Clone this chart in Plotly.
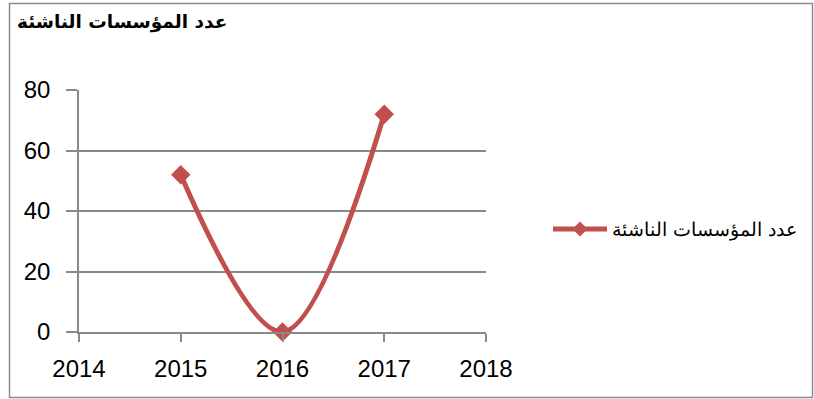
import plotly.graph_objects as go

years = [2015, 2016, 2017]
values = [52, 0, 72]
series_name = "عدد المؤسسات الناشئة"
title_text = "عدد المؤسسات الناشئة"
x_ticks = [2014, 2015, 2016, 2017, 2018]
y_ticks = [0, 20, 40, 60, 80]

W, H = 814, 399
L, R, T, B = 79, 328, 90, 67
pw, ph = W - L - R, H - T - B

def px_x(p):
    return (p - L) / pw

def px_y(p):
    return (H - B - p) / ph

red = "#C0504D"
grid = "#898989"

fig = go.Figure()
fig.add_trace(go.Scatter(
    x=years, y=values, mode="lines+markers", name=series_name,
    line=dict(color=red, width=5, shape="spline", smoothing=1.0),
    marker=dict(symbol="diamond", size=15, color=red),
    cliponaxis=False, showlegend=False,
))

shapes = [
    dict(type="rect", xref="paper", yref="paper",
         x0=px_x(9.5), x1=px_x(812.5), y0=px_y(397.5), y1=px_y(3.5),
         line=dict(color="#8c8c8c", width=1.5), layer="below"),
    # legend sample line
    dict(type="line", xref="paper", yref="paper",
         x0=px_x(553), x1=px_x(607), y0=px_y(229), y1=px_y(229),
         line=dict(color=red, width=5)),
]
# legend diamond
cx, cy, r = 580, 229, 7.5
shapes.append(dict(type="path", xref="paper", yref="paper",
                   path=f"M {px_x(cx-r)},{px_y(cy)} L {px_x(cx)},{px_y(cy-r)} L {px_x(cx+r)},{px_y(cy)} L {px_x(cx)},{px_y(cy+r)} Z",
                   fillcolor=red, line=dict(color=red, width=0)))

annotations = [
    dict(text=series_name, xref="paper", yref="paper", x=px_x(610), y=px_y(229),
         xanchor="left", yanchor="middle", showarrow=False,
         font=dict(family="DejaVu Serif, Times New Roman, serif", size=19, color="#000")),
]

fig.update_layout(
    width=W, height=H,
    margin=dict(l=L, r=R, t=T, b=B),
    paper_bgcolor="white", plot_bgcolor="white",
    title=dict(text=f"<b>{title_text}</b>", x=17 / W, xref="container", xanchor="left",
               y=1 - 22 / H, yref="container", yanchor="middle",
               font=dict(family="DejaVu Sans, Arial, sans-serif", size=18.5, color="#000")),
    shapes=shapes, annotations=annotations, showlegend=False,
    xaxis=dict(range=[2014, 2018], tickvals=x_ticks, ticktext=[str(v) for v in x_ticks],
               showgrid=False, zeroline=False, showline=True, linecolor=grid, linewidth=1.5,
               ticks="outside", ticklen=8, tickcolor=grid, tickwidth=1.5,
               ticklabelstandoff=6,
               tickfont=dict(family="Liberation Sans, Arial", size=24, color="#000")),
    yaxis=dict(range=[0, 80], tickvals=y_ticks, showgrid=True, gridcolor=grid, gridwidth=1.5,
               zeroline=False, showline=True, linecolor=grid, linewidth=1.5,
               ticks="outside", ticklen=11, tickcolor=grid, tickwidth=1.5,
               ticklabelstandoff=11,
               tickfont=dict(family="Liberation Sans, Arial", size=24, color="#000")),
)

fig.write_html("out.html")
